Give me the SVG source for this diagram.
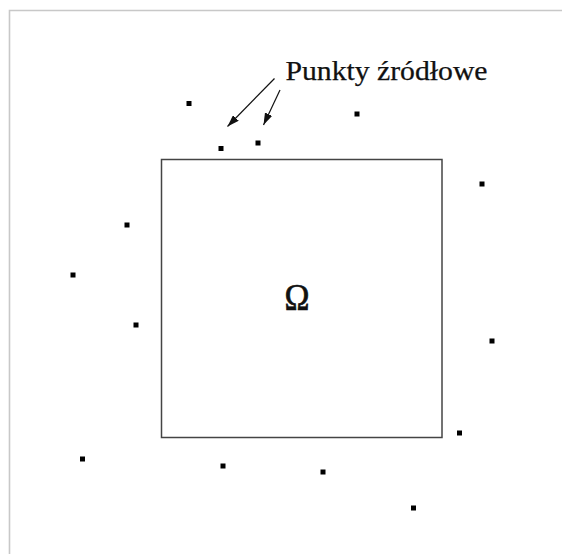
<svg xmlns="http://www.w3.org/2000/svg" width="562" height="554" viewBox="0 0 562 554">
<style>
.frame{stroke:#c8c8c8;stroke-width:1.6;fill:none}
.dot{fill:#000}
.lbl{font-family:"Liberation Serif","Times New Roman",serif;fill:#111;stroke:#111;stroke-width:0.25}
.arr{stroke:#111;stroke-width:1.2;fill:none;marker-end:url(#ah)}
</style>
<defs>
<marker id="ah" viewBox="0 0 12 8" refX="12" refY="4" markerWidth="12" markerHeight="8" markerUnits="userSpaceOnUse" orient="auto">
<path d="M0,0 L12,4 L0,8 Z" fill="#111"/>
</marker>
</defs>
<rect width="562" height="554" fill="#fff"/>
<path class="frame" d="M9.5,554 V10.5 H562"/>
<g id="domain">
<rect x="161.5" y="159.5" width="280.5" height="278" fill="none" stroke="#444" stroke-width="1.5"/>
<text class="lbl" x="297" y="310" font-size="37" text-anchor="middle" textLength="25" lengthAdjust="spacingAndGlyphs" style="stroke-width:0.7">Ω</text>
</g>
<g id="label">
<text class="lbl" x="285.5" y="80" font-size="27" textLength="202" lengthAdjust="spacingAndGlyphs">Punkty źródłowe</text>
</g>
<g id="connectors">
<line class="arr" x1="274.5" y1="78.5" x2="227.5" y2="126.5"/>
<line class="arr" x1="280" y1="90" x2="263.5" y2="125"/>
</g>
<g id="points">
<rect class="dot" x="186.5" y="101" width="5" height="5"/>
<rect class="dot" x="218.5" y="146" width="5" height="5"/>
<rect class="dot" x="255.5" y="140.5" width="5" height="5"/>
<rect class="dot" x="354.5" y="111.5" width="5" height="5"/>
<rect class="dot" x="479.5" y="181.5" width="5" height="5"/>
<rect class="dot" x="124.5" y="222.5" width="5" height="5"/>
<rect class="dot" x="70.5" y="272.5" width="5" height="5"/>
<rect class="dot" x="133.5" y="322.5" width="5" height="5"/>
<rect class="dot" x="489.5" y="338.5" width="5" height="5"/>
<rect class="dot" x="457" y="430.5" width="5" height="5"/>
<rect class="dot" x="80" y="456.5" width="5" height="5"/>
<rect class="dot" x="220.5" y="463.5" width="5" height="5"/>
<rect class="dot" x="320.5" y="469.5" width="5" height="5"/>
<rect class="dot" x="411" y="505.5" width="5" height="5"/>
</g>
</svg>
